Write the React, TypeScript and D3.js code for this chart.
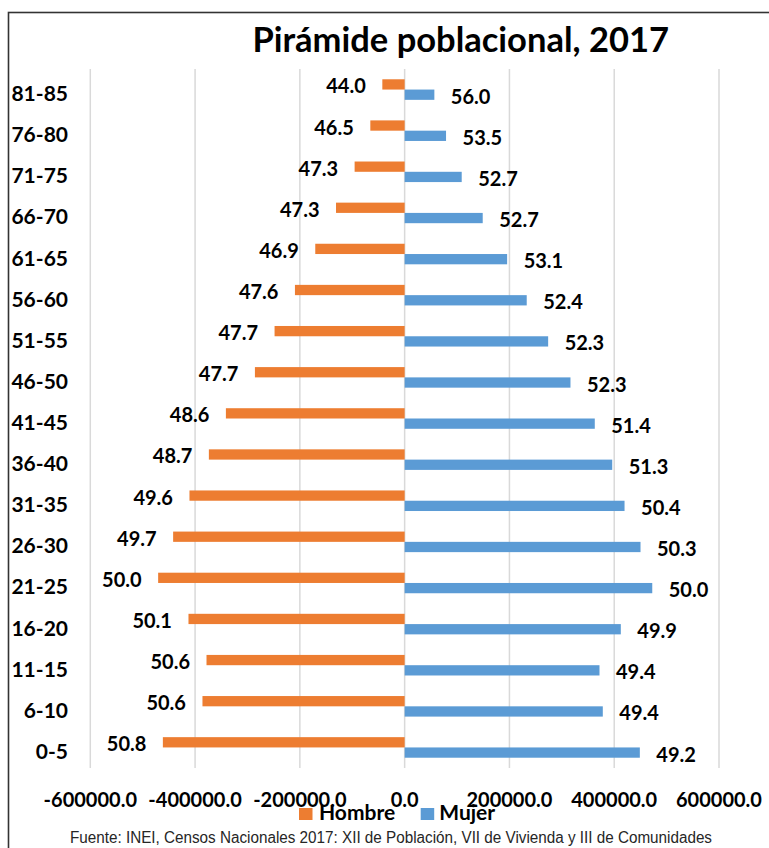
import React from "react";
import * as d3 from "d3";

const categories = ["81-85","76-80","71-75","66-70","61-65","56-60","51-55","46-50","41-45","36-40","31-35","26-30","21-25","16-20","11-15","6-10","0-5"];
const hombre = [42600,65500,95500,131000,170600,209400,248300,285800,341200,373700,410700,441900,470500,412600,378200,385900,461500];
const mujer = [56700,79000,108900,149000,195600,233000,273900,316500,362900,396200,419700,450200,472600,412600,371900,378200,448900];
const hombrePct = ["44.0","46.5","47.3","47.3","46.9","47.6","47.7","47.7","48.6","48.7","49.6","49.7","50.0","50.1","50.6","50.6","50.8"];
const mujerPct = ["56.0","53.5","52.7","52.7","53.1","52.4","52.3","52.3","51.4","51.3","50.4","50.3","50.0","49.9","49.4","49.4","49.2"];
const ticks = [-600000,-400000,-200000,0,200000,400000,600000];
const tickLabels = ["-600000.0","-400000.0","-200000.0","0.0","200000.0","400000.0","600000.0"];
const title = "Pirámide poblacional, 2017";
const source = "Fuente: INEI, Censos Nacionales 2017: XII de Población, VII de Vivienda y III de Comunidades";
const seriesNames = ["Hombre","Mujer"];
const colors = ["#ED7D31","#5B9BD5"];

export default function App() {
  const W = 769, H = 848;
  const x = d3.scaleLinear().domain([-600000, 600000]).range([90.3, 719]);
  const y = d3.scaleBand<string>().domain(categories).range([69, 768]).paddingInner(0.5).paddingOuter(0.25);
  const sub = d3.scaleBand<string>().domain(seriesNames).range([0, y.bandwidth()]);
  const font = "Lato, 'Open Sans', sans-serif";
  return (
    <svg width={W} height={H} style={{ position: "absolute", left: 0, top: 0, background: "#fff" }}>
      <rect x={8.5} y={12.5} width={900} height={900} fill="#fff" stroke="#333" strokeWidth={1.6} />
      <text x={460.7} y={51.7} textAnchor="middle" fontFamily={font} fontWeight={700} fontSize={34.5} fill="#000">{title}</text>
      {ticks.map((t, i) => (
        <line key={"g" + i} x1={x(t)} x2={x(t)} y1={69} y2={768} stroke="#d9d9d9" strokeWidth={1.5} />
      ))}
      {categories.map((c, i) => {
        const yc = (y(c) as number);
        const yh = yc + (sub("Hombre") as number);
        const ym = yc + (sub("Mujer") as number);
        const bw = sub.bandwidth();
        return (
          <g key={c}>
            <rect x={x(-hombre[i])} y={yh} width={x(0) - x(-hombre[i])} height={bw} fill={colors[0]} />
            <rect x={x(0)} y={ym} width={x(mujer[i]) - x(0)} height={bw} fill={colors[1]} />
            <text x={x(-hombre[i]) - 16.5} y={yh + bw / 2 + 9} textAnchor="end" fontFamily={font} fontWeight={700} fontSize={20} fill="#000">{hombrePct[i]}</text>
            <text x={x(mujer[i]) + 16.5} y={ym + bw / 2 + 9} textAnchor="start" fontFamily={font} fontWeight={700} fontSize={20} fill="#000">{mujerPct[i]}</text>
            <text x={68} y={yc + y.bandwidth() / 2 + 11.5} textAnchor="end" fontFamily={font} fontWeight={700} fontSize={21} fill="#000">{c}</text>
          </g>
        );
      })}
      {ticks.map((t, i) => (
        <text key={"t" + i} x={x(t)} y={807} textAnchor="middle" fontFamily={font} fontWeight={700} fontSize={20} fill="#000">{tickLabels[i]}</text>
      ))}
      <rect x={299} y={808} width={13.5} height={12} fill={colors[0]} />
      <text x={319} y={820} fontFamily={font} fontWeight={700} fontSize={21} fill="#000">{seriesNames[0]}</text>
      <rect x={420.7} y={808} width={13.5} height={12} fill={colors[1]} />
      <text x={439.3} y={820} fontFamily={font} fontWeight={700} fontSize={21} fill="#000">{seriesNames[1]}</text>
      <text x={70} y={843} textLength={642} lengthAdjust="spacingAndGlyphs" fontFamily="'Liberation Sans', Arial, sans-serif" fontSize={16} fill="#262626">{source}</text>
    </svg>
  );
}
